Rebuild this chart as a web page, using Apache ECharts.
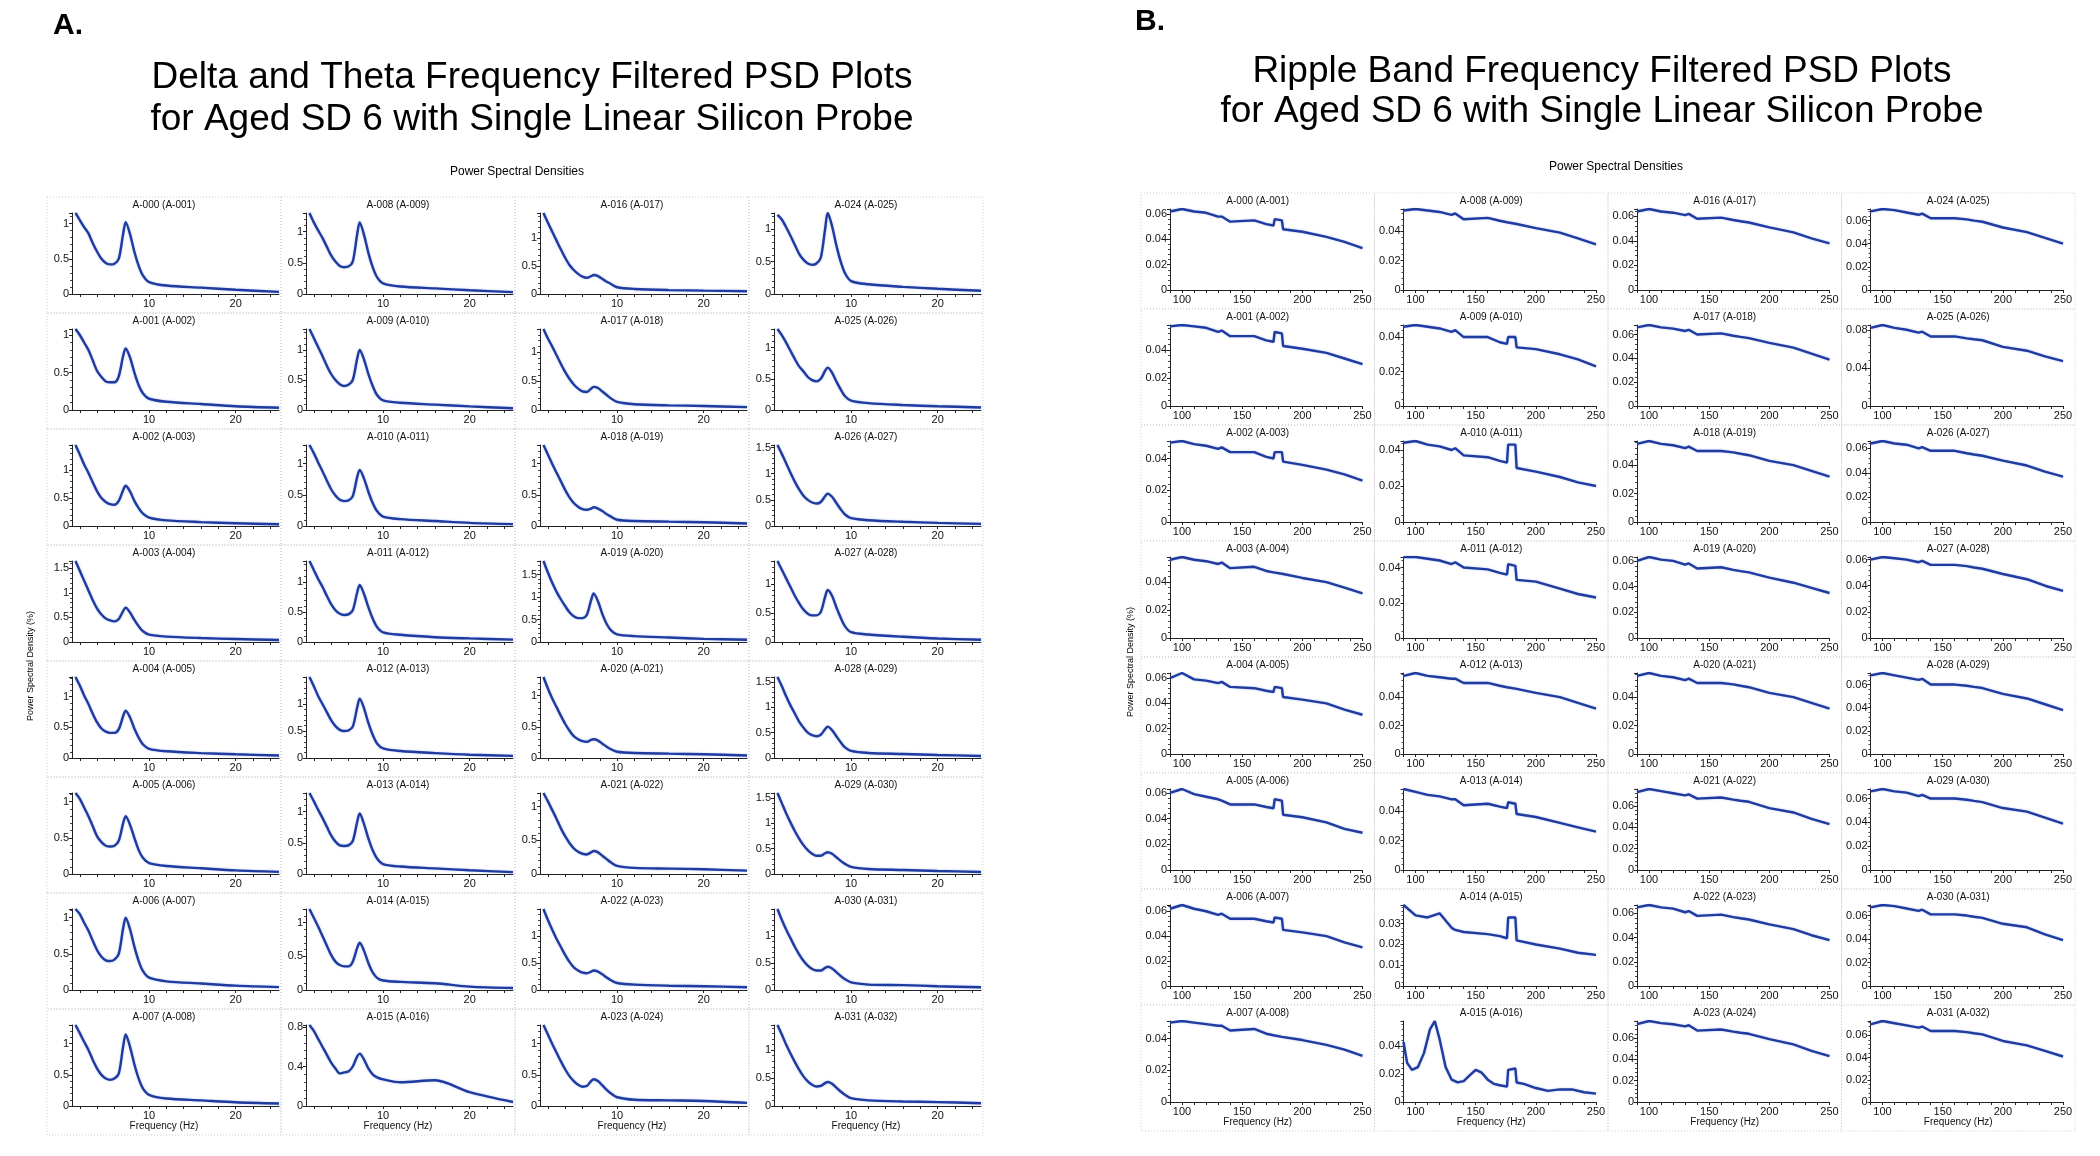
<!DOCTYPE html>
<html>
<head>
<meta charset="utf-8">
<script src="https://cdn.jsdelivr.net/npm/echarts@6/dist/echarts.min.js"></script>
<style>
  html, body { margin: 0; padding: 0; background: #fff; }
  #chart { width: 2100px; height: 1156px; }
</style>
</head>
<body>
<div id="chart"></div>
<script>
// frequencies (Hz) sampled for the delta/theta panel
var freqA = [1.5, 2, 2.5, 3, 3.5, 4, 4.5, 5, 5.5, 6, 6.5, 7, 7.3, 7.8, 8.3, 8.8, 9.3, 10, 12, 16, 20, 25];
// PSD (%) per channel A-000 .. A-031
var deltaTheta = [
  [1.15,1.05,0.95,0.86,0.72,0.6,0.5,0.44,0.42,0.43,0.5,0.85,1.02,0.85,0.6,0.4,0.26,0.17,0.12,0.09,0.06,0.03],
  [1.08,1.0,0.9,0.8,0.66,0.52,0.44,0.38,0.37,0.37,0.45,0.72,0.82,0.7,0.5,0.33,0.22,0.15,0.11,0.08,0.05,0.03],
  [1.45,1.28,1.1,0.95,0.78,0.62,0.5,0.43,0.39,0.38,0.45,0.64,0.72,0.62,0.45,0.32,0.22,0.15,0.1,0.07,0.05,0.03],
  [1.65,1.45,1.25,1.05,0.85,0.68,0.56,0.48,0.44,0.42,0.47,0.63,0.7,0.6,0.45,0.32,0.22,0.15,0.11,0.08,0.06,0.04],
  [1.32,1.18,1.02,0.88,0.72,0.58,0.48,0.43,0.41,0.41,0.47,0.68,0.77,0.66,0.48,0.33,0.22,0.15,0.11,0.08,0.06,0.04],
  [1.12,1.04,0.92,0.8,0.66,0.52,0.44,0.39,0.38,0.39,0.46,0.7,0.8,0.68,0.5,0.33,0.22,0.15,0.11,0.08,0.05,0.03],
  [1.12,1.05,0.93,0.82,0.68,0.55,0.46,0.41,0.4,0.42,0.5,0.85,1.0,0.84,0.6,0.4,0.26,0.17,0.12,0.09,0.06,0.04],
  [1.3,1.17,1.03,0.9,0.74,0.6,0.5,0.44,0.42,0.44,0.52,0.95,1.15,0.95,0.67,0.44,0.28,0.18,0.12,0.09,0.06,0.04],
  [1.3,1.15,1.02,0.9,0.76,0.62,0.52,0.45,0.43,0.44,0.52,0.95,1.15,0.95,0.66,0.43,0.27,0.17,0.12,0.09,0.06,0.03],
  [1.35,1.2,1.05,0.9,0.74,0.6,0.5,0.43,0.4,0.42,0.5,0.85,1.0,0.84,0.6,0.4,0.25,0.16,0.12,0.09,0.06,0.03],
  [1.3,1.17,1.02,0.88,0.73,0.59,0.49,0.42,0.4,0.41,0.48,0.78,0.9,0.76,0.55,0.37,0.24,0.15,0.11,0.08,0.05,0.03],
  [1.35,1.2,1.05,0.92,0.77,0.63,0.53,0.47,0.45,0.46,0.53,0.82,0.95,0.8,0.58,0.39,0.25,0.16,0.12,0.08,0.06,0.04],
  [1.5,1.33,1.15,1.0,0.85,0.7,0.59,0.52,0.5,0.51,0.58,0.93,1.1,0.92,0.65,0.43,0.27,0.18,0.13,0.09,0.06,0.04],
  [1.3,1.17,1.03,0.9,0.76,0.62,0.52,0.46,0.45,0.46,0.53,0.83,0.97,0.8,0.57,0.38,0.25,0.16,0.12,0.09,0.06,0.03],
  [1.2,1.07,0.94,0.8,0.66,0.52,0.42,0.37,0.35,0.35,0.42,0.62,0.7,0.58,0.4,0.26,0.18,0.14,0.12,0.1,0.05,0.03],
  [0.82,0.76,0.68,0.6,0.52,0.44,0.38,0.33,0.34,0.35,0.4,0.5,0.53,0.47,0.38,0.32,0.29,0.27,0.24,0.26,0.14,0.04],
  [1.45,1.28,1.12,0.96,0.8,0.65,0.52,0.43,0.36,0.31,0.29,0.32,0.34,0.32,0.27,0.22,0.18,0.12,0.09,0.07,0.06,0.05],
  [1.4,1.24,1.1,0.95,0.8,0.66,0.54,0.44,0.37,0.32,0.31,0.37,0.4,0.38,0.32,0.26,0.2,0.14,0.1,0.08,0.07,0.05],
  [1.3,1.15,1.0,0.86,0.72,0.58,0.46,0.37,0.31,0.27,0.26,0.28,0.3,0.28,0.24,0.19,0.15,0.1,0.08,0.07,0.06,0.04],
  [1.8,1.55,1.32,1.12,0.95,0.8,0.66,0.57,0.53,0.53,0.6,0.93,1.08,0.9,0.62,0.4,0.26,0.17,0.13,0.1,0.07,0.05],
  [1.3,1.12,0.96,0.82,0.68,0.55,0.44,0.35,0.3,0.27,0.26,0.29,0.3,0.28,0.23,0.18,0.14,0.1,0.08,0.07,0.06,0.04],
  [1.2,1.08,0.95,0.82,0.68,0.56,0.46,0.38,0.33,0.3,0.29,0.32,0.34,0.32,0.27,0.22,0.17,0.12,0.09,0.08,0.07,0.05],
  [1.5,1.3,1.12,0.95,0.8,0.65,0.52,0.42,0.36,0.32,0.31,0.34,0.36,0.34,0.29,0.23,0.18,0.13,0.1,0.08,0.07,0.05],
  [1.3,1.15,1.0,0.86,0.72,0.59,0.48,0.4,0.34,0.31,0.32,0.4,0.43,0.4,0.33,0.26,0.2,0.14,0.1,0.09,0.08,0.05],
  [1.22,1.15,1.03,0.9,0.76,0.62,0.53,0.47,0.45,0.47,0.56,1.0,1.25,1.05,0.75,0.5,0.32,0.2,0.15,0.11,0.08,0.05],
  [1.3,1.2,1.08,0.95,0.82,0.7,0.62,0.53,0.48,0.46,0.5,0.63,0.68,0.6,0.46,0.33,0.22,0.15,0.11,0.08,0.06,0.04],
  [1.55,1.38,1.2,1.02,0.85,0.7,0.58,0.5,0.45,0.43,0.46,0.57,0.62,0.56,0.44,0.32,0.22,0.15,0.11,0.08,0.06,0.04],
  [1.4,1.25,1.1,0.95,0.8,0.67,0.56,0.49,0.46,0.46,0.52,0.78,0.9,0.8,0.6,0.42,0.27,0.17,0.13,0.09,0.06,0.04],
  [1.6,1.42,1.22,1.04,0.88,0.72,0.6,0.5,0.45,0.43,0.46,0.57,0.62,0.55,0.43,0.31,0.21,0.14,0.1,0.08,0.06,0.04],
  [1.6,1.4,1.2,1.02,0.85,0.7,0.57,0.47,0.4,0.36,0.36,0.41,0.43,0.4,0.33,0.26,0.2,0.14,0.1,0.08,0.06,0.04],
  [1.5,1.3,1.12,0.96,0.8,0.66,0.54,0.45,0.39,0.36,0.36,0.41,0.43,0.4,0.33,0.26,0.2,0.14,0.1,0.09,0.07,0.05],
  [1.45,1.28,1.1,0.94,0.79,0.65,0.53,0.44,0.38,0.35,0.36,0.41,0.43,0.4,0.33,0.26,0.2,0.14,0.1,0.08,0.07,0.05]
];
var yStepA = [0.5,0.5,0.5,0.5,0.5,0.5,0.5,0.5, 0.5,0.5,0.5,0.5,0.5,0.5,0.5,0.4,
              0.5,0.5,0.5,0.5,0.5,0.5,0.5,0.5, 0.5,0.5,0.5,0.5,0.5,0.5,0.5,0.5];

// frequencies (Hz) sampled for the ripple panel
var freqB = [90, 100, 110, 120, 130, 133, 140, 160, 170, 176, 177, 183, 184, 200, 220, 235, 250];
// channel A-015 has a different shape, sampled more densely
var freqB15 = [90, 93, 97, 102, 107, 112, 116, 120, 125, 130, 135, 140, 145, 150, 155, 160, 165, 170, 176, 177, 183, 184, 190, 200, 210, 220, 230, 240, 250];
var ripple = [
  [0.062,0.064,0.062,0.061,0.058,0.058,0.054,0.055,0.052,0.051,0.056,0.055,0.048,0.046,0.042,0.038,0.033],
  [0.057,0.058,0.057,0.056,0.053,0.054,0.050,0.050,0.047,0.046,0.053,0.052,0.043,0.041,0.038,0.034,0.030],
  [0.050,0.051,0.049,0.048,0.046,0.047,0.044,0.044,0.041,0.040,0.044,0.044,0.038,0.036,0.033,0.030,0.026],
  [0.056,0.058,0.056,0.055,0.053,0.054,0.050,0.051,0.048,0.047,0.047,0.046,0.046,0.043,0.040,0.036,0.032],
  [0.060,0.064,0.059,0.058,0.056,0.057,0.053,0.052,0.050,0.049,0.053,0.052,0.045,0.043,0.040,0.035,0.031],
  [0.060,0.063,0.059,0.057,0.055,0.054,0.051,0.051,0.049,0.048,0.055,0.054,0.043,0.041,0.037,0.032,0.029],
  [0.062,0.065,0.062,0.060,0.057,0.058,0.054,0.054,0.052,0.051,0.055,0.054,0.045,0.043,0.040,0.035,0.031],
  [0.050,0.051,0.050,0.049,0.048,0.048,0.045,0.046,0.043,0.042,0.042,0.041,0.041,0.039,0.036,0.033,0.029],
  [0.054,0.055,0.054,0.053,0.051,0.052,0.048,0.049,0.047,0.046,0.046,0.045,0.045,0.042,0.039,0.035,0.031],
  [0.046,0.047,0.046,0.045,0.043,0.044,0.040,0.040,0.037,0.036,0.040,0.040,0.034,0.033,0.030,0.027,0.023],
  [0.044,0.045,0.043,0.042,0.040,0.041,0.037,0.036,0.034,0.033,0.043,0.043,0.030,0.028,0.025,0.022,0.020],
  [0.046,0.046,0.045,0.044,0.042,0.043,0.040,0.039,0.037,0.036,0.042,0.041,0.033,0.032,0.028,0.025,0.023],
  [0.055,0.057,0.055,0.054,0.053,0.053,0.050,0.050,0.048,0.047,0.047,0.046,0.046,0.043,0.040,0.036,0.032],
  [0.055,0.053,0.051,0.050,0.048,0.048,0.044,0.045,0.043,0.042,0.046,0.045,0.038,0.036,0.032,0.029,0.026],
  [0.039,0.034,0.033,0.035,0.028,0.027,0.026,0.025,0.024,0.023,0.033,0.033,0.022,0.020,0.018,0.016,0.015],
  [0.043,0.028,0.023,0.025,0.035,0.052,0.058,0.045,0.025,0.016,0.014,0.015,0.019,0.023,0.021,0.016,0.013,0.012,0.011,0.023,0.024,0.014,0.013,0.010,0.008,0.009,0.009,0.007,0.006],
  [0.064,0.066,0.064,0.063,0.061,0.062,0.058,0.059,0.057,0.056,0.056,0.055,0.055,0.051,0.047,0.042,0.038],
  [0.066,0.068,0.066,0.065,0.063,0.064,0.060,0.061,0.059,0.058,0.058,0.057,0.057,0.053,0.049,0.044,0.039],
  [0.055,0.057,0.055,0.054,0.052,0.053,0.050,0.050,0.049,0.048,0.048,0.047,0.047,0.043,0.040,0.036,0.032],
  [0.060,0.063,0.061,0.060,0.057,0.058,0.054,0.055,0.053,0.052,0.052,0.051,0.051,0.047,0.043,0.039,0.035],
  [0.055,0.057,0.055,0.054,0.052,0.053,0.050,0.050,0.049,0.048,0.048,0.047,0.047,0.043,0.040,0.036,0.032],
  [0.073,0.076,0.074,0.072,0.070,0.071,0.067,0.068,0.066,0.065,0.065,0.064,0.064,0.058,0.054,0.048,0.043],
  [0.065,0.067,0.065,0.064,0.061,0.062,0.058,0.059,0.057,0.056,0.056,0.055,0.055,0.051,0.047,0.042,0.038],
  [0.073,0.076,0.074,0.073,0.071,0.072,0.067,0.068,0.066,0.065,0.065,0.064,0.064,0.059,0.054,0.048,0.043],
  [0.068,0.070,0.069,0.067,0.065,0.066,0.062,0.062,0.061,0.060,0.060,0.059,0.059,0.054,0.050,0.045,0.040],
  [0.082,0.085,0.082,0.080,0.077,0.078,0.073,0.073,0.071,0.070,0.070,0.069,0.069,0.062,0.058,0.052,0.047],
  [0.064,0.066,0.064,0.063,0.060,0.061,0.058,0.058,0.056,0.055,0.055,0.054,0.054,0.050,0.046,0.041,0.037],
  [0.060,0.062,0.061,0.060,0.058,0.059,0.056,0.056,0.055,0.054,0.054,0.053,0.053,0.049,0.045,0.040,0.036],
  [0.068,0.070,0.068,0.066,0.064,0.065,0.060,0.060,0.059,0.058,0.058,0.057,0.057,0.052,0.048,0.043,0.038],
  [0.066,0.068,0.066,0.065,0.062,0.063,0.060,0.060,0.059,0.058,0.058,0.057,0.057,0.052,0.049,0.044,0.039],
  [0.067,0.069,0.068,0.066,0.064,0.065,0.061,0.061,0.060,0.059,0.059,0.058,0.058,0.053,0.050,0.044,0.039],
  [0.070,0.073,0.071,0.069,0.067,0.068,0.064,0.064,0.063,0.062,0.062,0.061,0.061,0.055,0.051,0.046,0.041]
];
var yStepB = [0.02,0.02,0.02,0.02,0.02,0.02,0.02,0.02, 0.02,0.02,0.02,0.02,0.02,0.02,0.01,0.02,
              0.02,0.02,0.02,0.02,0.02,0.02,0.02,0.02, 0.02,0.04,0.02,0.02,0.02,0.02,0.02,0.02];

// axis tick labels and tick marks
var xLabelsA = [10, 20];
var xTicksA = [2, 4, 6, 8, 10, 12, 14, 16, 18, 20, 22, 24];
var xLabelsB = [100, 150, 200, 250];
var xTicksB = [90, 100, 110, 120, 130, 140, 150, 160, 170, 180, 190, 200, 210, 220, 230, 240, 250];

var chart = echarts.init(document.getElementById('chart'));
var FONT = 'Liberation Sans';
var lineColor = '#1f3b9f';

function chName(i) {
  var p = function (n) { return 'A-' + ('00' + n).slice(-3); };
  return p(i) + ' (' + p(i + 1) + ')';
}

var grids = [], xAxes = [], yAxes = [], series = [], graphics = [];

function addPanel(pLeft, pTop, cw, rh, lastH, pad, xmin, xmax, xLabels, xTicks, freqs, vals, steps, smooth) {
  for (var i = 0; i < 32; i++) {
    var c = Math.floor(i / 8), r = i % 8;
    var cl = pLeft + c * cw, ct = pTop + r * rh;
    var ch = r === 7 ? lastH : rh;
    graphics.push({
      type: 'rect', shape: { x: cl, y: ct, width: cw, height: ch }, silent: true,
      style: { fill: 'none', stroke: '#cfcfcf', lineWidth: 1, lineDash: [1, 2] }
    });
    graphics.push({
      type: 'text', x: cl + cw / 2, y: ct + 8, silent: true,
      style: { text: chName(i), font: '10px ' + FONT, fill: '#111', align: 'center', verticalAlign: 'middle' }
    });
    if (r === 7) {
      graphics.push({
        type: 'text', x: cl + cw / 2, y: ct + 117, silent: true,
        style: { text: 'Frequency (Hz)', font: '10px ' + FONT, fill: '#111', align: 'center', verticalAlign: 'middle' }
      });
    }
    var gi = grids.length;
    grids.push({ left: cl + pad[0], top: ct + 16, width: cw - pad[0] - pad[1], height: 81 });
    xAxes.push({
      type: 'value', gridIndex: gi, min: xmin, max: xmax,
      axisLine: { lineStyle: { color: '#222', width: 1 } },
      axisTick: { customValues: xTicks, length: 3, lineStyle: { color: '#222' } },
      axisLabel: { customValues: xLabels, fontSize: 11, fontFamily: FONT, color: '#111', margin: 4 },
      splitLine: { show: false }
    });
    yAxes.push({
      type: 'value', gridIndex: gi, min: 0, max: 'dataMax', interval: steps[i],
      axisLine: { show: true, lineStyle: { color: '#222', width: 1 } },
      axisTick: { show: true, length: 3, lineStyle: { color: '#222' } },
      minorTick: { show: true, splitNumber: 5, length: 2, lineStyle: { color: '#444' } },
      axisLabel: { fontSize: 11, fontFamily: FONT, color: '#111', margin: 3, showMaxLabel: false },
      splitLine: { show: false }
    });
    var fx = (vals[i].length === freqs.length) ? freqs : freqB15;
    series.push({
      type: 'line', xAxisIndex: gi, yAxisIndex: gi, showSymbol: false, smooth: smooth,
      data: fx.map(function (f, k) { return [f, vals[i][k]]; }),
      lineStyle: { color: lineColor, width: 2.4, shadowColor: 'rgba(120,150,230,0.6)', shadowBlur: 2 },
      silent: true
    });
  }
}

addPanel(47, 197, 234, 116, 126, [25, 2], 1.1, 25, xLabelsA, xTicksA, freqA, deltaTheta, yStepA, 0.3);
addPanel(1141, 193, 233.5, 116, 126, [29, 12], 90, 250, xLabelsB, xTicksB, freqB, ripple, yStepB, false);

function txt(x, y, s, font, extra) {
  var o = { type: 'text', x: x, y: y, silent: true,
    style: { text: s, font: font, fill: '#000', align: 'center', verticalAlign: 'middle' } };
  if (extra) { for (var k in extra) o[k] = extra[k]; }
  return o;
}
graphics.push(txt(68, 26, 'A.', 'bold 30px ' + FONT));
graphics.push(txt(1150, 22, 'B.', 'bold 30px ' + FONT));
graphics.push(txt(532, 78, 'Delta and Theta Frequency Filtered PSD Plots', '37px ' + FONT));
graphics.push(txt(532, 120, 'for Aged SD 6 with Single Linear Silicon Probe', '37px ' + FONT));
graphics.push(txt(1602, 72, 'Ripple Band Frequency Filtered PSD Plots', '37px ' + FONT));
graphics.push(txt(1602, 112, 'for Aged SD 6 with Single Linear Silicon Probe', '37px ' + FONT));
graphics.push(txt(517, 172, 'Power Spectral Densities', '12px ' + FONT));
graphics.push(txt(1616, 167, 'Power Spectral Densities', '12px ' + FONT));
graphics.push(txt(31, 666, 'Power Spectral Density (%)', '9px ' + FONT, { rotation: Math.PI / 2 }));
graphics.push(txt(1131, 662, 'Power Spectral Density (%)', '9px ' + FONT, { rotation: Math.PI / 2 }));

chart.setOption({
  animation: false,
  backgroundColor: '#fff',
  grid: grids,
  xAxis: xAxes,
  yAxis: yAxes,
  series: series,
  graphic: graphics
});
</script>
</body>
</html>
